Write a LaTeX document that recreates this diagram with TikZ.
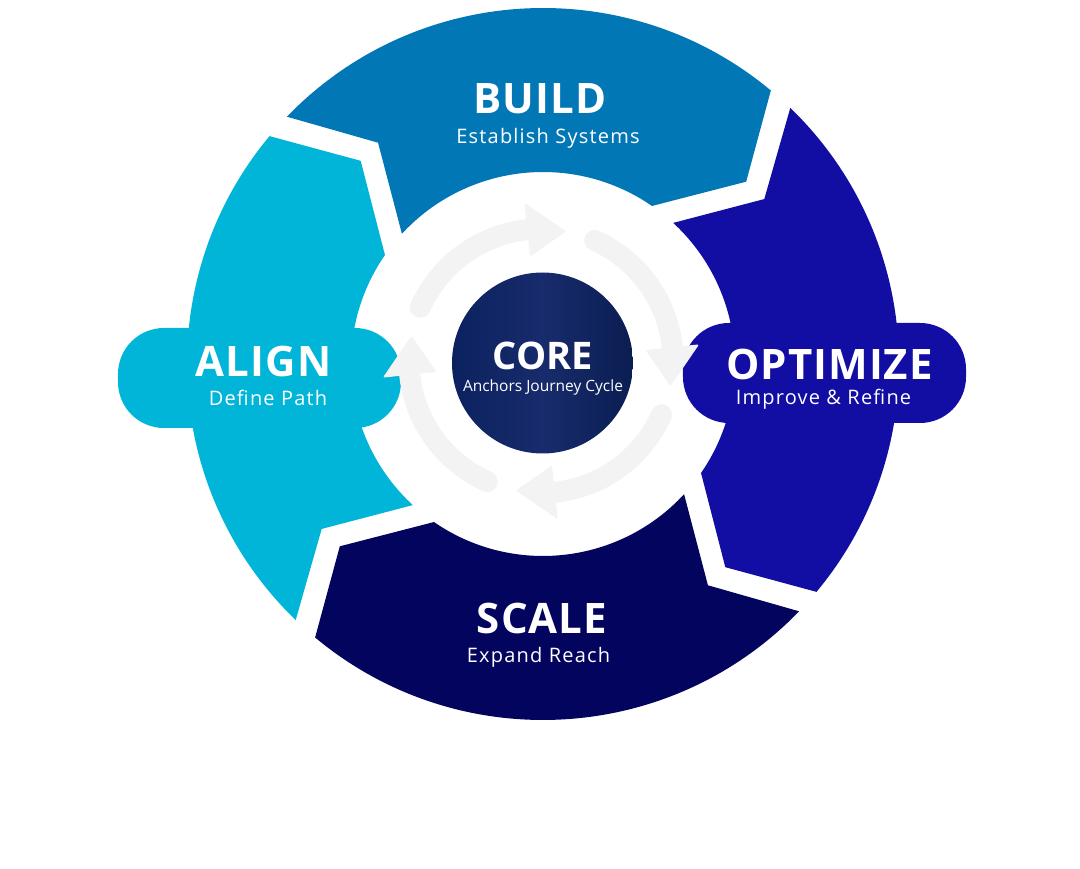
\documentclass[tikz,border=0pt]{standalone}
\usepackage{fontspec}
\setmainfont{Open Sans}
\newfontfamily\subfont[LetterSpace=6]{Open Sans}
\newfontfamily\headfont[LetterSpace=2.5]{Open Sans}
\definecolor{buildblue}{HTML}{0277B6}
\definecolor{alignteal}{HTML}{00B5D8}
\definecolor{optblue}{HTML}{120EA3}
\definecolor{scalenavy}{HTML}{03045E}
\definecolor{coreleft}{HTML}{0C2260}
\definecolor{coremid}{HTML}{182B6C}
\definecolor{coreright}{HTML}{0A1E52}
\definecolor{ringgrey}{HTML}{F3F3F3}
\tikzset{stagetitle/.style={anchor=base, text=white, inner sep=0pt, font=\headfont\fontsize{42}{48}\selectfont\bfseries}}
\tikzset{stagesub/.style={anchor=base, text=white, inner sep=0pt, font=\subfont\fontsize{20}{24}\selectfont}}
\tikzset{cycleshaft/.style={draw=ringgrey, line width=21pt, line cap=round}}
\tikzset{cyclehead/.style={fill=ringgrey, rounded corners=1.5pt}}

\begin{document}
\begin{tikzpicture}[x=1pt, y=1pt]

      \useasboundingbox (-543,-505) rectangle (537,364);

      % SEGMENTS

      \foreach \rot/\col in {0/buildblue, -90/optblue, -180/scalenavy, 90/alignteal}{
        \begin{scope}[rotate=\rot]
          \fill[\col] (136:356) arc[start angle=136, end angle=50.2, radius=356]
            -- (41.9:273) -- (55.4:192) arc[start angle=55.4, end angle=137.3, radius=192]
            -- (126.7:276) -- cycle;
        \end{scope}
      }

      % BUMPS

      \fill[alignteal, rounded corners=46pt] (-425,-64) rectangle (-142,36);
      \fill[optblue, rounded corners=46pt] (140,-59) rectangle (423,41);

      % CYCLE ARROWS

      \foreach \rot in {0,-90,-180,-270}{
        \begin{scope}[shift={(-2,3)}, rotate=\rot]
          \draw[cycleshaft] (156:132) arc[start angle=156, end angle=95, radius=132];
          \fill[cyclehead] (96:159) -- (79:132) -- (96:105) -- cycle;
        \end{scope}
      }

      % CORE

      \node[circle, inner sep=0pt, minimum size=181pt, left color=coreleft,
        right color=coreright, middle color=coremid] (core) at (-0.5,1) {};

      % LABELS

      \node[stagetitle] (buildLabel) at (-3,250) {BUILD};
      \node[stagesub] (buildSub) at (5,220) {Establish Systems};
      \node[stagetitle] (optLabel) at (286.5,-16) {OPTIMIZE};
      \node[stagesub] (optSub) at (280.5,-41) {Improve \& Refine};
      \node[stagetitle] (scaleLabel) at (-1,-270) {SCALE};
      \node[stagesub] (scaleSub) at (-4.5,-299) {Expand Reach};
      \node[stagetitle] (alignLabel) at (-279.5,-13) {ALIGN};
      \node[stagesub] (alignSub) at (-275,-42) {Define Path};
      \node[anchor=base, text=white, inner sep=0pt, font=\fontsize{38}{44}\selectfont\bfseries] (coreLabel) at (0,-6) {CORE};
      \node[anchor=base, text=white, inner sep=0pt, font=\fontsize{15.5}{18}\selectfont] (coreSub) at (0,-28) {Anchors Journey Cycle};
    \end{tikzpicture}
\end{document}
